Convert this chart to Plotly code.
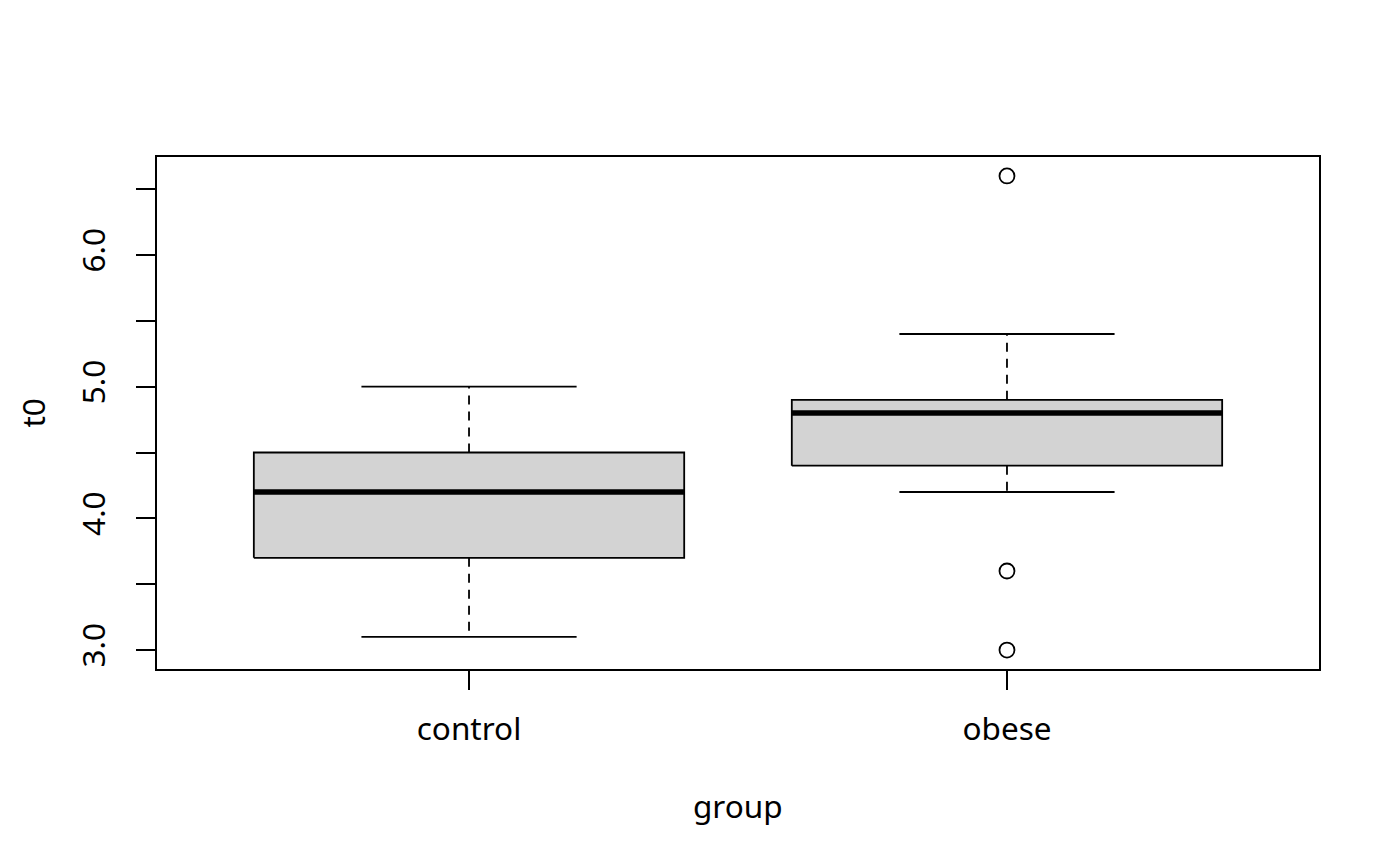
import plotly.graph_objects as go

# summary stats (t0 by group)
groups = ["control", "obese"]
lower_whisker = [3.1, 4.2]
q1 = [3.7, 4.4]
median = [4.2, 4.8]
q3 = [4.5, 4.9]
upper_whisker = [5.0, 5.4]
outliers = [[], [6.6, 3.6, 3.0]]

ytick_vals = [3.0, 3.5, 4.0, 4.5, 5.0, 5.5, 6.0, 6.5]
ytick_text = ["3.0", "", "4.0", "", "5.0", "", "6.0", ""]

box_half = 0.4
cap_half = 0.2
line_w = 1.8
font = dict(family="Noto Sans", size=31.5, color="black")

fig = go.Figure()

for i, g in enumerate(groups):
    c = i + 1
    # dashed whiskers
    fig.add_trace(go.Scatter(
        x=[c, c, None, c, c],
        y=[q3[i], upper_whisker[i], None, q1[i], lower_whisker[i]],
        mode="lines", line=dict(color="black", width=line_w, dash="9px,7px"),
        hoverinfo="skip", showlegend=False))
    # whisker caps
    fig.add_trace(go.Scatter(
        x=[c - cap_half, c + cap_half, None, c - cap_half, c + cap_half],
        y=[upper_whisker[i], upper_whisker[i], None, lower_whisker[i], lower_whisker[i]],
        mode="lines", line=dict(color="black", width=line_w),
        hoverinfo="skip", showlegend=False))
    # box
    fig.add_trace(go.Scatter(
        x=[c - box_half, c + box_half, c + box_half, c - box_half, c - box_half],
        y=[q1[i], q1[i], q3[i], q3[i], q1[i]],
        mode="lines", fill="toself", fillcolor="#D3D3D3",
        line=dict(color="black", width=line_w),
        hoverinfo="skip", showlegend=False))
    # median
    fig.add_trace(go.Scatter(
        x=[c - box_half, c + box_half], y=[median[i], median[i]],
        mode="lines", line=dict(color="black", width=5.5),
        hoverinfo="skip", showlegend=False))
    # outliers
    if outliers[i]:
        fig.add_trace(go.Scatter(
            x=[c] * len(outliers[i]), y=outliers[i], mode="markers",
            marker=dict(symbol="circle-open", size=15, color="black",
                        line=dict(width=1.8, color="black")),
            showlegend=False))

axis_common = dict(showline=True, linecolor="black", linewidth=line_w, mirror=True,
                   showgrid=False, zeroline=False, ticks="outside", ticklen=19,
                   tickwidth=line_w, tickcolor="black", tickfont=font)

# page body has an 8px margin, so the figure is shifted by 8px
fig.update_layout(
    width=1392, height=858,
    margin=dict(l=149, r=81, t=149, b=197),
    plot_bgcolor="white", paper_bgcolor="white",
    font=font,
    xaxis=dict(range=[0.42, 2.58], tickvals=[1, 2], ticktext=groups,
               ticklabelstandoff=12, **axis_common),
    yaxis=dict(range=[2.856, 6.744], tickvals=ytick_vals, ticktext=ytick_text,
               tickangle=-90, ticklabelstandoff=19, **axis_common),
    annotations=[
        dict(text="group", xref="paper", yref="paper", x=0.5, y=-136 / 512,
             xanchor="center", yanchor="middle", showarrow=False, font=font),
        dict(text="t0", xref="paper", yref="paper", x=-149 / 1162, y=0.5,
             xanchor="left", yanchor="middle", textangle=-90, showarrow=False, font=font),
    ],
)

fig.write_html("out.html", config={"displayModeBar": False})
